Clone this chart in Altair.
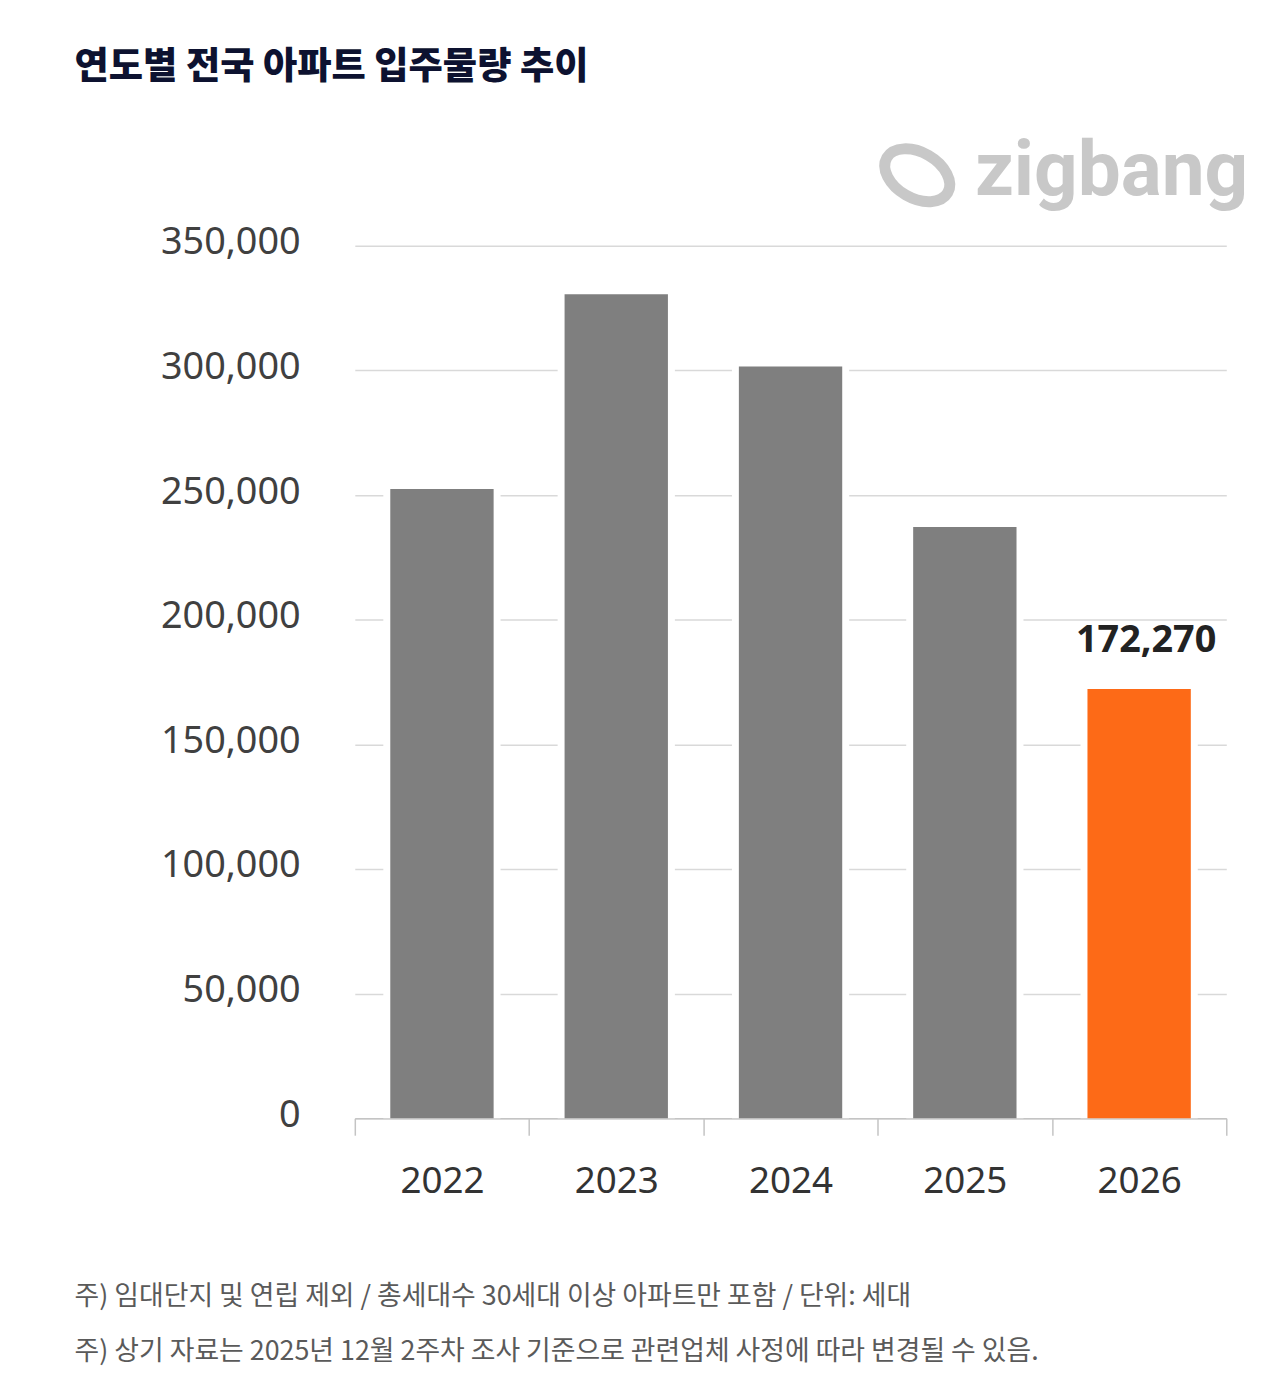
import altair as alt
import pandas as pd

# ---- data ----
years = ["2022", "2023", "2024", "2025", "2026"]
supply = [252500, 330600, 301600, 237200, 172270]
group = ["실적", "실적", "실적", "실적", "예정"]
y_ticks = [0, 50000, 100000, 150000, 200000, 250000, 300000, 350000]

title_text = ["연도별 전국 아파트 입주물량 추이"]
note_lines = [
    "주) 임대단지 및 연립 제외 / 총세대수 30세대 이상 아파트만 포함 / 단위: 세대",
    "주) 상기 자료는 2025년 12월 2주차 조사 기준으로 관련업체 사정에 따라 변경될 수 있음.",
]
brand = ["zigbang"]

df = pd.DataFrame({"year": years, "supply": supply, "group": group})

NUM_FONT = "Noto Sans"
KR_FONT = "Noto Sans CJK KR"

x_enc = alt.X(
    "year:N",
    sort=years,
    title=None,
    scale=alt.Scale(paddingInner=0, paddingOuter=0),
    axis=alt.Axis(
        labelAngle=0,
        labelFont=NUM_FONT,
        labelFontSize=37,
        labelColor="#333333",
        labelPadding=29,
        domainColor="#c4c4c4",
        domainWidth=1.5,
        tickColor="#c4c4c4",
        tickWidth=1.5,
        tickSize=17,
        tickBand="extent",
        grid=False,
    ),
)
y_enc = alt.Y(
    "supply:Q",
    title=None,
    scale=alt.Scale(domain=[0, 350000], nice=False),
    axis=alt.Axis(
        values=y_ticks,
        format=",d",
        labelFont=NUM_FONT,
        labelFontSize=38,
        labelColor="#404040",
        labelPadding=55,
        labelBaseline="middle",
        labelOffset=-3,
        domain=False,
        ticks=False,
        gridColor="#d9d9d9",
        gridWidth=1.5,
    ),
)

gap = alt.Chart(df).mark_bar(width=118, color="white").encode(x=x_enc, y=y_enc)

bars = alt.Chart(df).mark_bar(width=104).encode(
    x=x_enc,
    y=y_enc,
    color=alt.Color(
        "group:N",
        scale=alt.Scale(domain=["실적", "예정"], range=["#7f7f7f", "#fd6a17"]),
        legend=None,
    ),
)

label = (
    alt.Chart(df)
    .transform_filter(alt.datum.group == "예정")
    .mark_text(dy=-48, dx=7, baseline="middle", font=NUM_FONT, fontSize=38,
               fontWeight="bold", color="#222222")
    .encode(x=x_enc, y=y_enc, text=alt.Text("supply:Q", format=",d"))
)

title = (
    alt.Chart(pd.DataFrame({"t": title_text}))
    .mark_text(align="left", baseline="middle", font=KR_FONT, fontSize=37.5,
               fontWeight=900, color="#0d1230")
    .encode(x=alt.value(-282), y=alt.value(-179), text="t:N")
)

note1 = (
    alt.Chart(pd.DataFrame({"t": note_lines[:1]}))
    .mark_text(align="left", baseline="middle", font=KR_FONT, fontSize=27,
               color="#5a5a5a")
    .encode(x=alt.value(-282), y=alt.value(1058), text="t:N")
)
note2 = (
    alt.Chart(pd.DataFrame({"t": note_lines[1:]}))
    .mark_text(align="left", baseline="middle", font=KR_FONT, fontSize=27,
               color="#5a5a5a")
    .encode(x=alt.value(-282), y=alt.value(1113), text="t:N")
)

logo_text = (
    alt.Chart(pd.DataFrame({"t": brand}))
    .mark_text(align="left", baseline="alphabetic", font="Roboto", fontSize=77,
               fontWeight="bold", color="#c8c8c8")
    .encode(x=alt.value(624), y=alt.value(-51), text="t:N")
)

ellipse = ("M -1 0 C -1 -0.36 -0.55 -0.65 0 -0.65 C 0.55 -0.65 1 -0.36 1 0 "
           "C 1 0.36 0.55 0.65 0 0.65 C -0.55 0.65 -1 0.36 -1 0 Z")
logo_icon = (
    alt.Chart(pd.DataFrame({"t": brand}))
    .mark_point(shape=ellipse, filled=False, strokeWidth=11, color="#c8c8c8",
                size=5000, angle=30, opacity=1)
    .encode(x=alt.value(566), y=alt.value(-71))
)

chart = (
    alt.layer(gap, bars, label, title, note1, note2, logo_text, logo_icon)
    .properties(
        width=877,
        height=878,
        autosize=alt.AutoSizeParams(type="none"),
        padding={"left": 349, "top": 235, "right": 46, "bottom": 258},
        background="white",
    )
    .configure_view(stroke=None)
)

chart.save("out.html", embed_options={"renderer": "svg", "actions": False})
